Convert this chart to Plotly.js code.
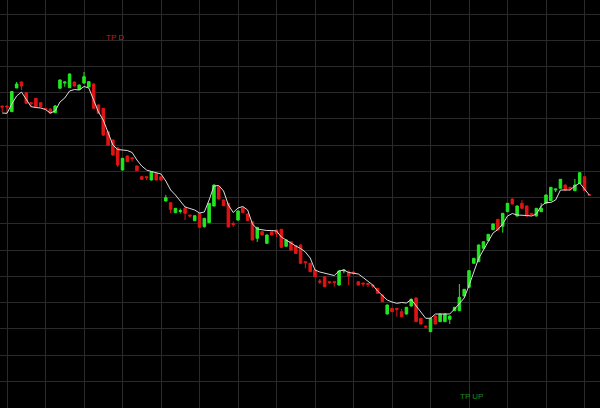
<!DOCTYPE html>
<html>
<head>
<meta charset="utf-8">
<script src="https://cdn.plot.ly/plotly-3.0.1.min.js"></script>
<style>
  html, body { margin: 0; padding: 0; background: #000; }
  #chart { width: 600px; height: 408px; }
</style>
</head>
<body>
<div id="chart"></div>
<script>
// OHLC values per bar (index order)
var openV = [
129.40, 129.40, 128.83, 131.20, 131.80, 130.73, 129.73, 130.17, 129.73, 129.15,
129.10, 128.73, 131.17, 131.70, 131.23, 131.80, 131.07, 131.70, 131.30, 131.60,
129.50, 129.17, 126.83, 126.00, 125.20, 123.00, 124.40, 124.23, 123.40, 122.33,
122.33, 122.00, 122.67, 122.33, 119.90, 119.73, 118.73, 118.85, 119.17, 118.50,
117.93, 118.67, 117.33, 117.73, 119.40, 121.33, 120.00, 119.67, 117.65, 118.00,
119.23, 118.60, 117.83, 116.17, 116.83, 115.67, 116.83, 117.00, 117.07, 115.37,
115.83, 115.45, 115.50, 113.83, 113.67, 113.00, 111.90, 112.33, 111.83, 111.83,
111.50, 112.90, 112.80, 112.80, 111.83, 111.70, 111.65, 111.50, 111.17, 110.50,
108.60, 109.17, 109.17, 108.83, 108.60, 109.40, 110.20, 108.17, 107.40, 106.83,
108.40, 107.83, 107.83, 108.07, 108.93, 108.93, 110.40, 111.27, 113.67, 113.83,
115.17, 115.93, 117.03, 118.07, 117.37, 118.83, 120.10, 118.40, 119.67, 119.40,
118.67, 118.40, 118.83, 119.67, 119.93, 121.00, 121.17, 121.50, 121.27, 120.93,
121.67, 122.33, 120.53
];
var highV = [
129.40, 129.40, 130.90, 131.80, 131.85, 130.80, 129.75, 130.20, 129.75, 129.20,
129.15, 129.50, 132.05, 131.80, 132.65, 131.85, 131.55, 132.80, 131.90, 131.65,
129.55, 129.20, 126.90, 126.05, 125.30, 124.20, 124.45, 124.25, 123.45, 122.40,
122.35, 122.85, 122.70, 122.35, 120.50, 119.75, 119.20, 119.15, 119.40, 118.50,
118.45, 118.70, 118.20, 119.70, 121.55, 121.40, 120.05, 119.70, 117.83, 118.95,
119.25, 118.65, 117.85, 117.30, 116.85, 116.55, 116.85, 117.05, 117.10, 116.05,
115.85, 115.50, 115.55, 113.85, 113.70, 113.05, 112.10, 112.35, 111.85, 111.85,
112.95, 113.05, 112.95, 112.85, 111.85, 111.70, 111.65, 111.55, 111.20, 110.55,
109.55, 109.20, 109.20, 109.10, 109.30, 110.15, 110.25, 108.20, 107.40, 108.25,
108.45, 108.65, 108.65, 108.45, 109.30, 111.60, 111.10, 112.95, 114.20, 115.55,
115.85, 116.60, 117.65, 118.10, 118.70, 119.70, 120.15, 119.45, 120.00, 119.45,
118.70, 119.20, 119.70, 120.55, 121.30, 121.10, 122.10, 121.55, 121.30, 122.10,
122.75, 122.35, 120.55
];
var lowV = [
128.80, 128.70, 128.80, 131.20, 131.00, 129.60, 129.30, 129.30, 129.30, 129.05,
128.60, 128.70, 131.15, 131.33, 131.20, 131.35, 131.05, 131.60, 131.27, 129.10,
128.60, 126.40, 125.40, 124.40, 123.30, 122.95, 123.80, 123.83, 122.90, 122.00,
122.00, 121.95, 121.95, 121.95, 119.85, 118.70, 118.70, 118.65, 118.00, 118.25,
117.90, 117.20, 117.25, 117.70, 119.35, 120.05, 119.40, 117.25, 117.30, 117.95,
118.70, 117.90, 115.95, 115.80, 116.45, 115.60, 116.45, 116.30, 115.20, 115.35,
114.95, 114.60, 113.60, 113.17, 112.80, 112.30, 111.60, 111.30, 111.60, 111.33,
111.45, 112.67, 111.50, 112.50, 111.45, 111.33, 111.30, 111.20, 110.60, 109.80,
108.55, 108.80, 108.33, 108.30, 108.55, 109.35, 107.80, 107.55, 107.15, 106.80,
107.55, 107.80, 107.80, 107.60, 108.90, 108.90, 110.35, 111.20, 113.65, 113.80,
115.15, 115.90, 117.00, 116.95, 116.73, 118.80, 119.55, 118.35, 119.15, 118.35,
118.45, 118.35, 118.80, 119.65, 119.90, 120.80, 121.15, 120.95, 120.95, 120.90,
121.65, 120.90, 120.45
];
var closeV = [
129.30, 129.30, 130.85, 131.60, 131.40, 129.67, 129.63, 129.33, 129.33, 129.10,
128.67, 129.40, 132.00, 131.80, 132.60, 131.40, 131.50, 132.33, 131.83, 129.17,
128.67, 126.50, 125.50, 124.50, 123.50, 124.17, 123.83, 124.13, 122.93, 122.07,
122.23, 122.83, 122.00, 122.00, 120.23, 119.07, 119.17, 118.95, 118.67, 118.40,
118.43, 117.27, 118.17, 119.67, 121.50, 120.10, 119.43, 117.30, 117.55, 118.90,
118.73, 117.95, 116.00, 117.27, 116.50, 116.50, 116.50, 116.65, 115.27, 116.00,
115.00, 114.65, 113.67, 113.73, 112.83, 112.33, 111.80, 111.33, 111.75, 111.75,
112.90, 113.00, 112.40, 112.70, 111.50, 111.60, 111.55, 111.40, 110.67, 109.83,
109.50, 108.83, 109.05, 108.33, 109.27, 110.07, 107.83, 107.60, 107.30, 108.17,
107.60, 108.60, 108.60, 108.40, 109.27, 110.27, 111.07, 112.93, 114.17, 115.50,
115.83, 116.57, 117.60, 117.00, 118.67, 119.67, 119.60, 119.40, 119.17, 118.40,
118.57, 119.17, 119.17, 120.50, 121.27, 121.10, 122.07, 121.00, 121.17, 121.50,
122.73, 120.93, 120.47
];
// moving-average style line
var maV = [
128.70, 128.67, 129.60, 130.40, 130.80, 130.10, 129.33, 129.25, 129.20, 129.05,
128.70, 128.90, 129.80, 130.20, 130.90, 131.05, 131.00, 131.35, 131.20, 130.00,
128.80, 128.00, 126.80, 125.50, 125.05, 125.00, 124.95, 124.75, 124.00, 123.40,
123.00, 122.85, 122.75, 122.60, 121.90, 121.00, 120.50, 119.90, 119.30, 119.15,
119.00, 118.70, 118.80, 120.00, 121.40, 121.45, 120.90, 119.50, 118.75, 119.20,
119.35, 119.00, 117.60, 117.10, 117.00, 116.95, 116.95, 116.90, 116.30, 116.00,
115.65, 115.40, 115.15, 114.80, 114.20, 113.00, 112.80, 112.70, 112.55, 112.45,
112.90, 113.00, 112.75, 112.70, 112.60, 112.25, 111.90, 111.50, 110.90, 110.40,
110.00, 109.80, 109.67, 109.75, 109.70, 110.05, 109.40, 108.70, 108.17, 108.17,
108.60, 108.60, 108.60, 108.60, 109.10, 109.60, 110.20, 111.45, 112.80, 114.15,
115.00, 115.90, 116.70, 117.05, 117.60, 118.40, 118.65, 118.50, 118.50, 118.45,
118.40, 118.60, 119.40, 119.75, 119.75, 120.00, 121.00, 121.00, 121.00, 121.40,
121.70, 121.10, 120.50
];
var labelTop = "TP D";
var labelBottom = "TP UP";

var idx = openV.map(function (_, i) { return i; });

var candles = {
  type: 'candlestick',
  x: idx, open: openV, high: highV, low: lowV, close: closeV,
  increasing: { line: { color: '#22e622', width: 1 }, fillcolor: '#22e622' },
  decreasing: { line: { color: '#e01414', width: 1 }, fillcolor: '#e01414' },
  whiskerwidth: 0,
  hoverinfo: 'skip',
  showlegend: false
};
var line = {
  type: 'scatter', mode: 'lines',
  x: idx, y: maV,
  line: { color: '#dcdcdc', width: 1 },
  hoverinfo: 'skip', showlegend: false
};

var layout = {
  width: 600, height: 408,
  margin: { l: 0, r: 0, t: 0, b: 0, pad: 0 },
  paper_bgcolor: '#000000',
  plot_bgcolor: '#000000',
  showlegend: false,
  hovermode: false,
  boxgap: 0.25,
  xaxis: {
    range: [-0.457, 124.22],
    tick0: 1, dtick: 8,
    showgrid: true, gridcolor: '#2a2a2a', gridwidth: 1,
    showticklabels: false, zeroline: false, showline: false, ticks: '',
    rangeslider: { visible: false }, fixedrange: true
  },
  yaxis: {
    range: [99.2, 140],
    tick0: 138.6, dtick: 2.624,
    showgrid: true, gridcolor: '#2a2a2a', gridwidth: 1,
    showticklabels: false, zeroline: false, showline: false, ticks: '',
    fixedrange: true
  },
  annotations: [
    { text: labelTop, xref: 'paper', yref: 'paper', x: 0.192, y: 0.909,
      xanchor: 'center', yanchor: 'middle',
      showarrow: false, font: { family: 'Liberation Sans, Arial, sans-serif', size: 8, color: '#d01818' } },
    { text: labelBottom, xref: 'paper', yref: 'paper', x: 0.786, y: 0.029,
      xanchor: 'center', yanchor: 'middle',
      showarrow: false, font: { family: 'Liberation Sans, Arial, sans-serif', size: 8, color: '#1e8c1e' } }
  ]
};

Plotly.newPlot('chart', [candles, line], layout, { displayModeBar: false, staticPlot: true });
</script>
</body>
</html>
